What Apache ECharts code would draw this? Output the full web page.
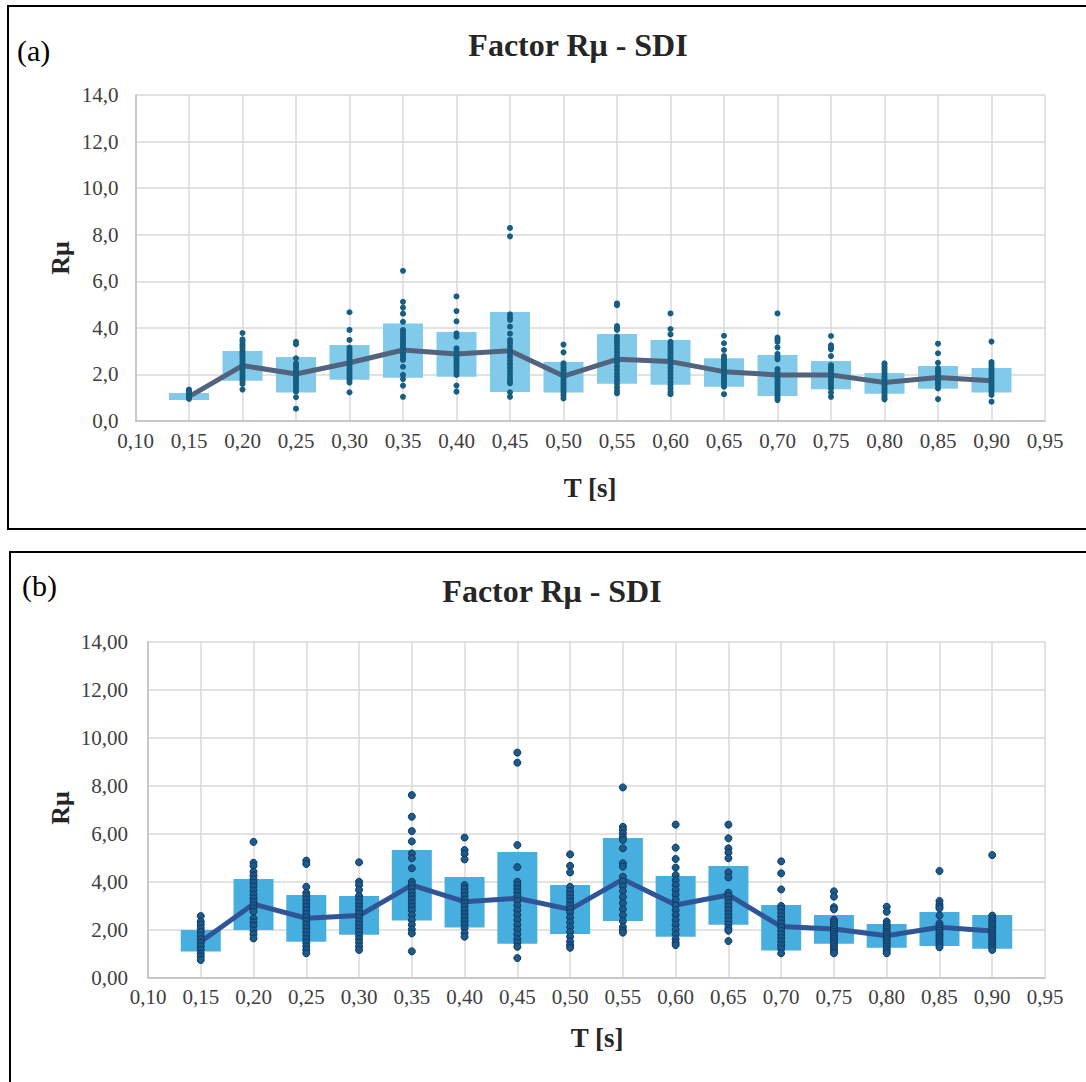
<!DOCTYPE html>
<html>
<head>
<meta charset="utf-8">
<script src="https://cdn.jsdelivr.net/npm/echarts@6/dist/echarts.min.js"></script>
<style>
html,body{margin:0;padding:0;background:#fff;}
#c{width:1086px;height:1082px;}
</style>
</head>
<body>
<div id="c"></div>
<script>
// ---------- DATA ----------
const periods = [0.15,0.20,0.25,0.30,0.35,0.40,0.45,0.50,0.55,0.60,0.65,0.70,0.75,0.80,0.85,0.90];
const xTickMin = 0.10, xTickMax = 0.95, xTickStep = 0.05;
const yTickMin = 0, yTickMax = 14, yTickStep = 2;

// Chart (a)
const boxLowA  = [0.90,1.73,1.22,1.77,1.86,1.90,1.25,1.22,1.60,1.56,1.47,1.07,1.36,1.17,1.39,1.22];
const boxHighA = [1.20,3.01,2.75,3.26,4.19,3.82,4.68,2.53,3.74,3.48,2.70,2.83,2.58,2.06,2.36,2.28];
const meanA    = [1.05,2.38,2.02,2.50,3.05,2.88,3.02,1.93,2.65,2.55,2.12,1.98,1.98,1.65,1.87,1.73];
const pointsA = [
  [1.35,1.3,1.25,1.2,1.15,1.1,1.05,1.0,0.95],
  [3.78,3.51,3.43,3.30,3.22,3.12,3.0,2.92,2.85,2.75,2.65,2.55,2.45,2.38,2.3,2.2,2.1,2.0,1.9,1.8,1.7,1.59,1.35],
  [3.40,3.30,2.69,2.48,2.4,2.3,2.2,2.1,2.0,1.9,1.8,1.7,1.6,1.5,1.40,1.26,1.02,0.53],
  [4.67,3.91,3.48,3.15,3.05,2.95,2.85,2.75,2.65,2.55,2.45,2.35,2.25,2.15,2.05,1.95,1.85,1.75,1.65,1.23],
  [6.45,5.12,4.87,4.61,4.26,3.91,3.8,3.7,3.6,3.5,3.4,3.3,3.2,3.1,3.0,2.9,2.8,2.7,2.62,2.33,1.98,1.80,1.52,1.04],
  [5.35,4.72,4.28,3.76,3.62,3.12,3.0,2.9,2.8,2.7,2.6,2.5,2.4,2.3,2.2,2.1,1.98,1.52,1.26],
  [8.29,7.93,4.58,4.45,4.34,4.05,3.75,3.48,3.35,3.2,3.05,2.9,2.75,2.6,2.45,2.3,2.15,2.0,1.85,1.72,1.62,1.23,1.04],
  [3.28,2.95,2.48,2.4,2.3,2.2,2.1,2.0,1.9,1.8,1.7,1.6,1.5,1.4,1.3,1.2,1.1,0.97],
  [5.05,4.97,4.08,4.0,3.91,3.62,3.5,3.38,3.25,3.1,2.95,2.8,2.65,2.5,2.35,2.2,2.05,1.9,1.75,1.6,1.45,1.3,1.19],
  [4.62,3.95,3.72,3.40,3.3,3.2,3.1,3.0,2.9,2.8,2.7,2.6,2.45,2.3,2.15,2.0,1.85,1.7,1.55,1.4,1.25,1.15],
  [3.66,3.34,3.05,2.79,2.7,2.6,2.5,2.4,2.3,2.2,2.1,2.0,1.9,1.8,1.7,1.6,1.47,1.15],
  [4.62,3.58,3.50,3.40,3.16,2.88,2.75,2.65,2.23,2.1,2.0,1.9,1.8,1.7,1.6,1.5,1.4,1.3,1.2,1.1,1.0,0.9],
  [3.65,3.25,3.15,3.08,2.79,2.40,2.3,2.2,2.1,2.0,1.9,1.8,1.7,1.6,1.5,1.40,1.22,1.04],
  [2.48,2.4,2.3,2.2,2.1,2.0,1.9,1.8,1.7,1.6,1.5,1.4,1.3,1.2,1.1,1.0,0.93],
  [3.32,2.91,2.50,2.26,2.15,2.05,1.95,1.85,1.75,1.65,1.55,1.40,0.94],
  [3.41,2.53,2.45,2.35,2.25,2.15,2.05,1.95,1.85,1.75,1.65,1.55,1.45,1.35,1.25,1.12,0.83]
];

// Chart (b)
const boxLowB  = [1.08,1.98,1.49,1.78,2.37,2.08,1.41,1.81,2.35,1.70,2.20,1.12,1.41,1.24,1.31,1.20];
const boxHighB = [1.98,4.10,3.44,3.40,5.31,4.19,5.23,3.85,5.81,4.23,4.65,3.02,2.60,2.23,2.73,2.60];
const meanB    = [1.49,3.06,2.47,2.58,3.85,3.16,3.30,2.84,4.09,3.02,3.44,2.12,2.02,1.74,2.09,1.94];
const pointsB = [
  [2.56,2.33,2.2,2.05,1.9,1.75,1.6,1.45,1.3,1.15,1.0,0.88,0.73],
  [5.65,4.78,4.65,4.41,4.25,4.1,3.95,3.8,3.62,3.45,3.3,3.15,3.0,2.88,2.74,2.47,2.3,2.15,1.95,1.8,1.63],
  [4.87,4.73,3.78,3.53,3.4,3.25,3.1,2.95,2.8,2.65,2.5,2.35,2.2,2.05,1.9,1.75,1.6,1.45,1.3,1.15,1.01],
  [4.80,3.99,3.85,3.65,3.40,3.25,3.1,2.95,2.8,2.65,2.5,2.35,2.2,2.05,1.9,1.75,1.6,1.45,1.3,1.15],
  [7.60,6.70,6.10,5.67,5.17,4.97,4.55,3.99,3.85,3.7,3.55,3.4,3.25,3.1,2.95,2.8,2.6,2.4,2.2,2.0,1.84,1.09],
  [5.83,5.31,5.15,4.92,3.85,3.7,3.55,3.4,3.25,3.1,2.95,2.8,2.65,2.5,2.35,2.2,2.05,1.85,1.70],
  [9.37,8.95,5.52,4.60,3.99,3.85,3.7,3.55,3.4,3.2,3.0,2.8,2.6,2.4,2.2,2.0,1.8,1.6,1.45,1.28,0.81],
  [5.13,4.65,4.38,3.78,3.6,3.45,3.3,3.15,3.0,2.85,2.7,2.5,2.3,2.1,1.9,1.7,1.5,1.35,1.24],
  [7.92,6.28,6.15,6.0,5.85,5.73,5.38,4.76,4.62,4.20,4.0,3.8,3.6,3.35,3.1,2.85,2.6,2.35,2.1,1.95,1.87],
  [6.37,5.41,4.94,4.58,4.27,4.05,3.85,3.65,3.45,3.25,3.0,2.8,2.6,2.4,2.2,2.0,1.8,1.6,1.45,1.35],
  [6.37,5.80,5.38,5.2,4.97,4.38,4.17,3.53,3.4,3.25,3.1,2.95,2.8,2.65,2.5,2.35,2.2,2.05,1.95,1.52],
  [4.84,4.34,3.67,2.98,2.85,2.7,2.55,2.4,2.25,2.1,1.95,1.8,1.65,1.5,1.35,1.2,1.01],
  [3.59,3.37,2.93,2.84,2.40,2.3,2.2,2.1,2.0,1.9,1.8,1.7,1.6,1.5,1.4,1.3,1.2,1.1,1.01],
  [2.95,2.74,2.33,2.2,2.1,2.0,1.9,1.8,1.7,1.6,1.5,1.4,1.3,1.2,1.1,1.01],
  [4.44,3.19,3.05,2.95,2.88,2.58,2.26,2.15,2.05,1.95,1.85,1.75,1.65,1.55,1.45,1.35,1.26],
  [5.10,2.58,2.45,2.35,2.25,2.15,2.05,1.95,1.85,1.75,1.65,1.55,1.45,1.35,1.25,1.15]
];

const titleText = 'Factor Rμ - SDI';
const yName = 'Rμ';
const xName = 'T [s]';

// ---------- BUILD ----------
const FONT = '"Liberation Serif", "Times New Roman", serif';
function boxData(lo, hi){ return periods.map((p,i)=>[p, lo[i], hi[i]]); }
function scatterData(pts){ const out=[]; pts.forEach((arr,i)=>arr.forEach(v=>out.push([periods[i], v]))); return out; }
function lineData(m){ return periods.map((p,i)=>[p, m[i]]); }
function boxRender(color){
  return function(params, api){
    const x = api.value(0), lo = api.value(1), hi = api.value(2);
    const a = api.coord([x, hi]), b = api.coord([x, lo]);
    return {type:'rect', shape:{x:a[0]-20, y:a[1], width:40, height:b[1]-a[1]}, style:{fill:color}};
  };
}
const commaFmt = d => v => v.toFixed(d).replace('.', ',');

function xAxisCfg(gi){
  return {gridIndex:gi, type:'value', min:xTickMin, max:xTickMax, interval:xTickStep,
    axisLine:{show:true, lineStyle:{color:'#bfbfbf', width:1.5}}, axisTick:{show:false},
    splitLine:{show:true, lineStyle:{color:'#d9d9d9', width:1.5}},
    axisLabel:{formatter:commaFmt(2), fontFamily:FONT, fontSize:21, color:'#404040', margin:9}};
}
function yAxisCfg(gi, d, m){
  return {gridIndex:gi, type:'value', min:yTickMin, max:yTickMax, interval:yTickStep,
    axisLine:{show:true, lineStyle:{color:'#bfbfbf', width:1.5}}, axisTick:{show:false},
    splitLine:{show:true, lineStyle:{color:'#d9d9d9', width:1.5}},
    axisLabel:{formatter:commaFmt(d), fontFamily:FONT, fontSize:21, color:'#404040', margin:m}};
}

const option = {
  animation:false,
  backgroundColor:'#fff',
  grid:[
    {left:135.5, top:95, width:909.5, height:326},
    {left:148, top:641.5, width:897, height:336}
  ],
  xAxis:[xAxisCfg(0), xAxisCfg(1)],
  yAxis:[yAxisCfg(0,1,17), yAxisCfg(1,2,20)],
  series:[
    {type:'custom', xAxisIndex:0, yAxisIndex:0, renderItem:boxRender('#82caea'), data:boxData(boxLowA, boxHighA), z:1},
    {type:'line', xAxisIndex:0, yAxisIndex:0, data:lineData(meanA), symbol:'none', lineStyle:{color:'#52637e', width:5}, z:2},
    {type:'scatter', xAxisIndex:0, yAxisIndex:0, data:scatterData(pointsA), symbolSize:6, itemStyle:{color:'#165e82', opacity:1}, z:3},
    {type:'custom', xAxisIndex:1, yAxisIndex:1, renderItem:boxRender('#46afdf'), data:boxData(boxLowB, boxHighB), z:1},
    {type:'line', xAxisIndex:1, yAxisIndex:1, data:lineData(meanB), symbol:'none', lineStyle:{color:'#2f5597', width:5}, z:2},
    {type:'scatter', xAxisIndex:1, yAxisIndex:1, data:scatterData(pointsB), symbolSize:7, itemStyle:{color:'#1c5a8c', borderColor:'#0f3a63', borderWidth:1, opacity:1}, z:3}
  ],
  graphic:[
    {type:'polyline', shape:{points:[[1086,6],[8,6],[8,529],[1086,529]]}, style:{stroke:'#000', lineWidth:2, fill:null}},
    {type:'polyline', shape:{points:[[1086,552],[10,552],[10,1082]]}, style:{stroke:'#000', lineWidth:2, fill:null}},
    {type:'text', x:17, y:50, style:{text:'(a)', font:'30px '+FONT, fill:'#000', verticalAlign:'middle'}},
    {type:'text', x:22, y:585, style:{text:'(b)', font:'30px '+FONT, fill:'#000', verticalAlign:'middle'}},
    {type:'text', x:578, y:45, style:{text:titleText, font:'bold 32px '+FONT, fill:'#262626', align:'center', verticalAlign:'middle'}},
    {type:'text', x:552, y:591, style:{text:titleText, font:'bold 32px '+FONT, fill:'#262626', align:'center', verticalAlign:'middle'}},
    {type:'text', x:60, y:258, rotation:Math.PI/2, style:{text:yName, font:'bold 26px '+FONT, fill:'#262626', align:'center', verticalAlign:'middle'}},
    {type:'text', x:60, y:808, rotation:Math.PI/2, style:{text:yName, font:'bold 26px '+FONT, fill:'#262626', align:'center', verticalAlign:'middle'}},
    {type:'text', x:590, y:488, style:{text:xName, font:'bold 27px '+FONT, fill:'#262626', align:'center', verticalAlign:'middle'}},
    {type:'text', x:597, y:1038, style:{text:xName, font:'bold 27px '+FONT, fill:'#262626', align:'center', verticalAlign:'middle'}}
  ]
};

const chart = echarts.init(document.getElementById('c'), null, {renderer:'svg', width:1086, height:1082});
chart.setOption(option);
</script>
</body>
</html>
